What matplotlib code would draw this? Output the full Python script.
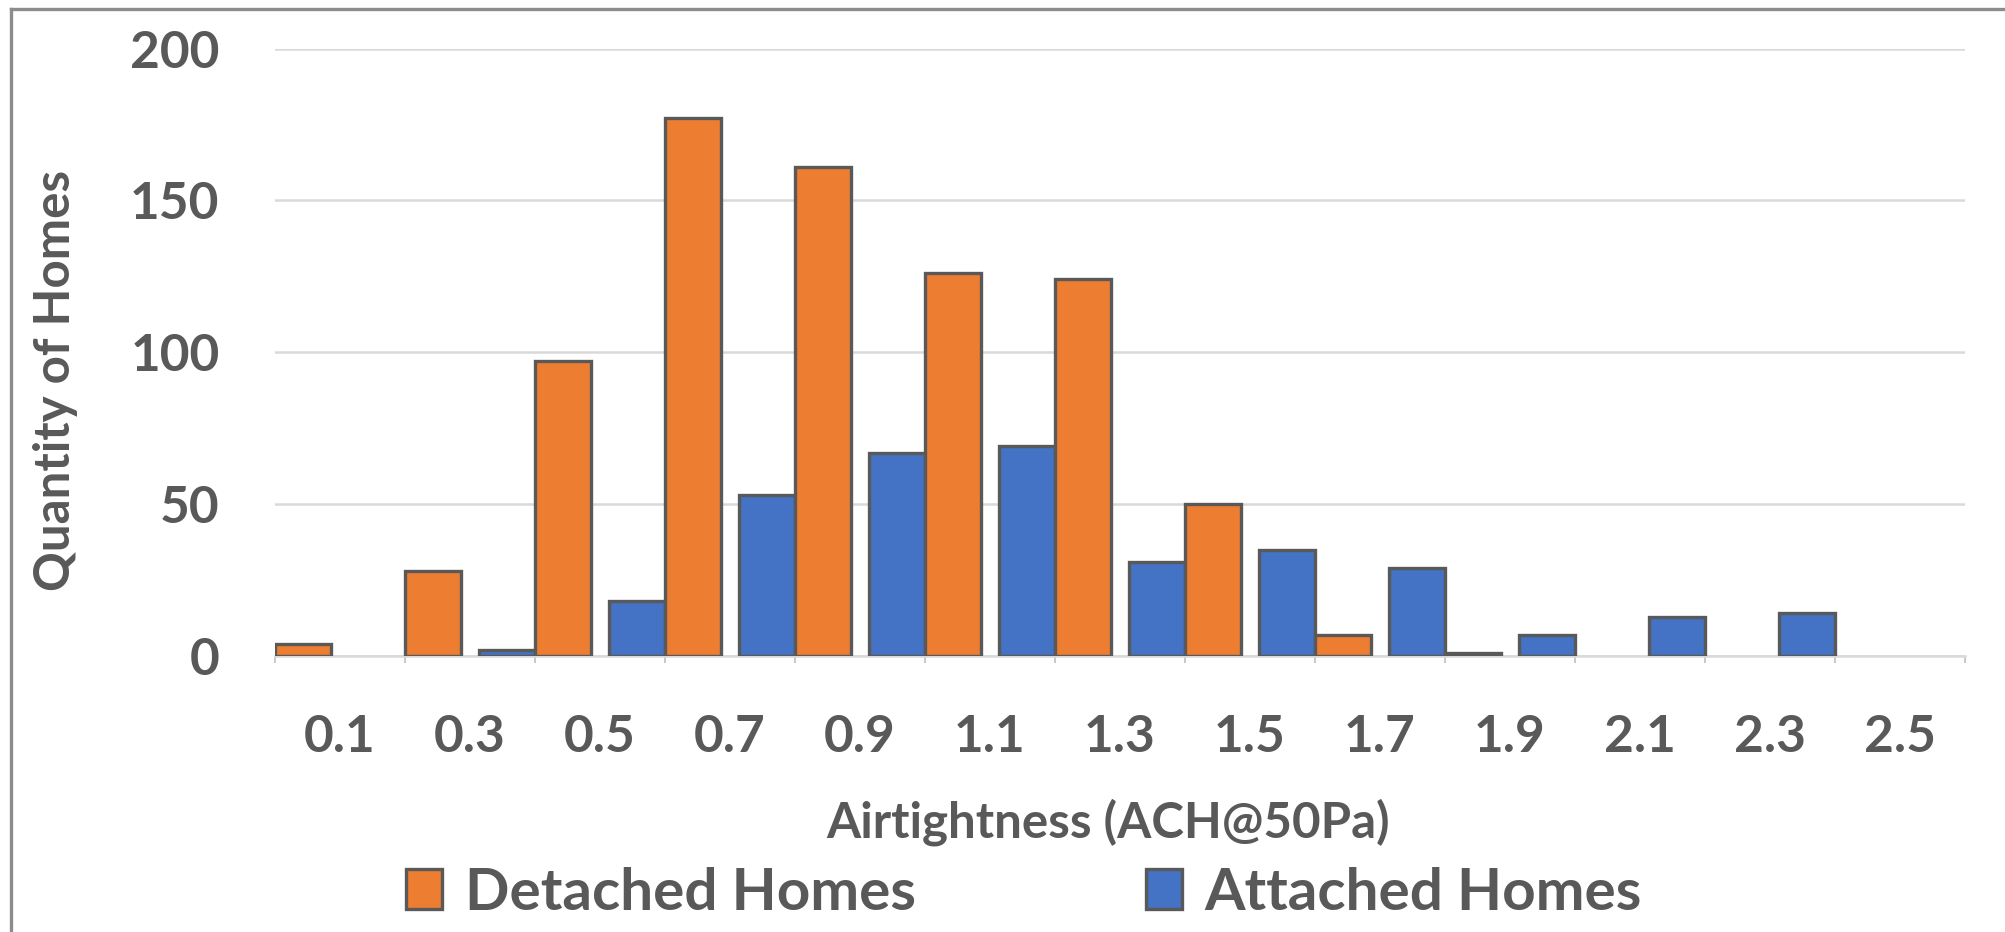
import matplotlib
matplotlib.use("Agg")
import matplotlib.pyplot as plt
from matplotlib.patches import Patch
from matplotlib.lines import Line2D
import numpy as np

# bin edges where each pair of bars sits, and the bin-centre labels
BIN_EDGES = [0.0, 0.2, 0.4, 0.6, 0.8, 1.0, 1.2, 1.4, 1.6, 1.8, 2.0, 2.2, 2.4, 2.6]
BIN_LABELS = ["0.1", "0.3", "0.5", "0.7", "0.9", "1.1", "1.3",
              "1.5", "1.7", "1.9", "2.1", "2.3", "2.5"]

DETACHED = [4, 28, 97, 177, 161, 126, 124, 50, 7, 1, 0, 0, 0, 0]
ATTACHED = [0, 0, 2, 18, 53, 67, 69, 31, 35, 29, 7, 13, 14, 0]

ORANGE = "#ED7D31"
BLUE = "#4472C4"
EDGE = "#595959"
TEXT = "#595959"
GRID = "#D9D9D9"

plt.rcParams["font.family"] = ["Lato", "DejaVu Sans"]
plt.rcParams["font.weight"] = "bold"


def main():
    fig = plt.figure(figsize=(20.05, 9.32), dpi=100)
    ax = fig.add_axes([275 / 2005, 276 / 932, 1690 / 2005, 607.4 / 932])

    edges = np.array(BIN_EDGES)
    w = 0.086
    # attached sits left of each edge, detached right of it
    att = ax.bar(edges - w, ATTACHED, width=w, align="edge", color=BLUE,
                 edgecolor=EDGE, linewidth=2.4, zorder=3)
    det = ax.bar(edges, DETACHED, width=w, align="edge", color=ORANGE,
                 edgecolor=EDGE, linewidth=2.4, zorder=3)
    # empty bins get no outline
    for p in list(att) + list(det):
        if p.get_height() == 0:
            p.set_visible(False)

    ax.set_xlim(0, 2.6)
    ax.set_ylim(0, 200)
    ax.set_yticks([0, 50, 100, 150, 200])
    ax.yaxis.grid(True, color=GRID, linewidth=1.8, zorder=0)
    ax.set_axisbelow(True)

    centers = (edges[:-1] + edges[1:]) / 2
    ax.set_xticks(centers)
    ax.set_xticklabels(BIN_LABELS)
    ax.set_xticks(edges, minor=True)
    ax.tick_params(axis="x", which="major", length=0, pad=42,
                   labelsize=37, labelcolor=TEXT)
    ax.tick_params(axis="x", which="minor", length=5, width=1.2,
                   color="#BFBFBF")
    ax.tick_params(axis="y", length=0, pad=40, labelsize=37,
                   labelcolor=TEXT)

    for s in ["top", "right", "left"]:
        ax.spines[s].set_visible(False)
    ax.spines["bottom"].set_color(GRID)
    ax.spines["bottom"].set_linewidth(1.8)

    fig.text(1108 / 2005, 1 - 822 / 932, "Airtightness (ACH@50Pa)",
             ha="center", va="center", fontsize=35.5, color=TEXT,
             fontweight="bold")
    fig.text(56 / 2005, 1 - 380 / 932, "Quantity of Homes",
             ha="center", va="center", rotation=90, fontsize=35.5,
             color=TEXT, fontweight="bold")

    handles = [
        Patch(facecolor=ORANGE, edgecolor=EDGE, linewidth=2.4),
        Patch(facecolor=BLUE, edgecolor=EDGE, linewidth=2.4),
    ]
    fig.legend(handles, ["Detached Homes", "Attached Homes"],
               loc="center", bbox_to_anchor=(1024 / 2005, 1 - 893 / 932),
               ncol=2, frameon=False, fontsize=42, labelcolor=TEXT,
               handlelength=0.62, handleheight=0.68, handletextpad=0.38,
               columnspacing=3.95, borderpad=0)

    # chart-area frame, visible on the left and top only
    frame = "#8C8C8C"
    fig.add_artist(Line2D([11 / 2005, 11 / 2005], [0, 1 - 8.5 / 932],
                          transform=fig.transFigure, color=frame,
                          linewidth=2.4))
    fig.add_artist(Line2D([11 / 2005, 1], [1 - 8.5 / 932, 1 - 8.5 / 932],
                          transform=fig.transFigure, color=frame,
                          linewidth=2.4))

    fig.savefig("out.png", dpi=100, facecolor="white")
    plt.close(fig)


if __name__ == "__main__":
    main()
